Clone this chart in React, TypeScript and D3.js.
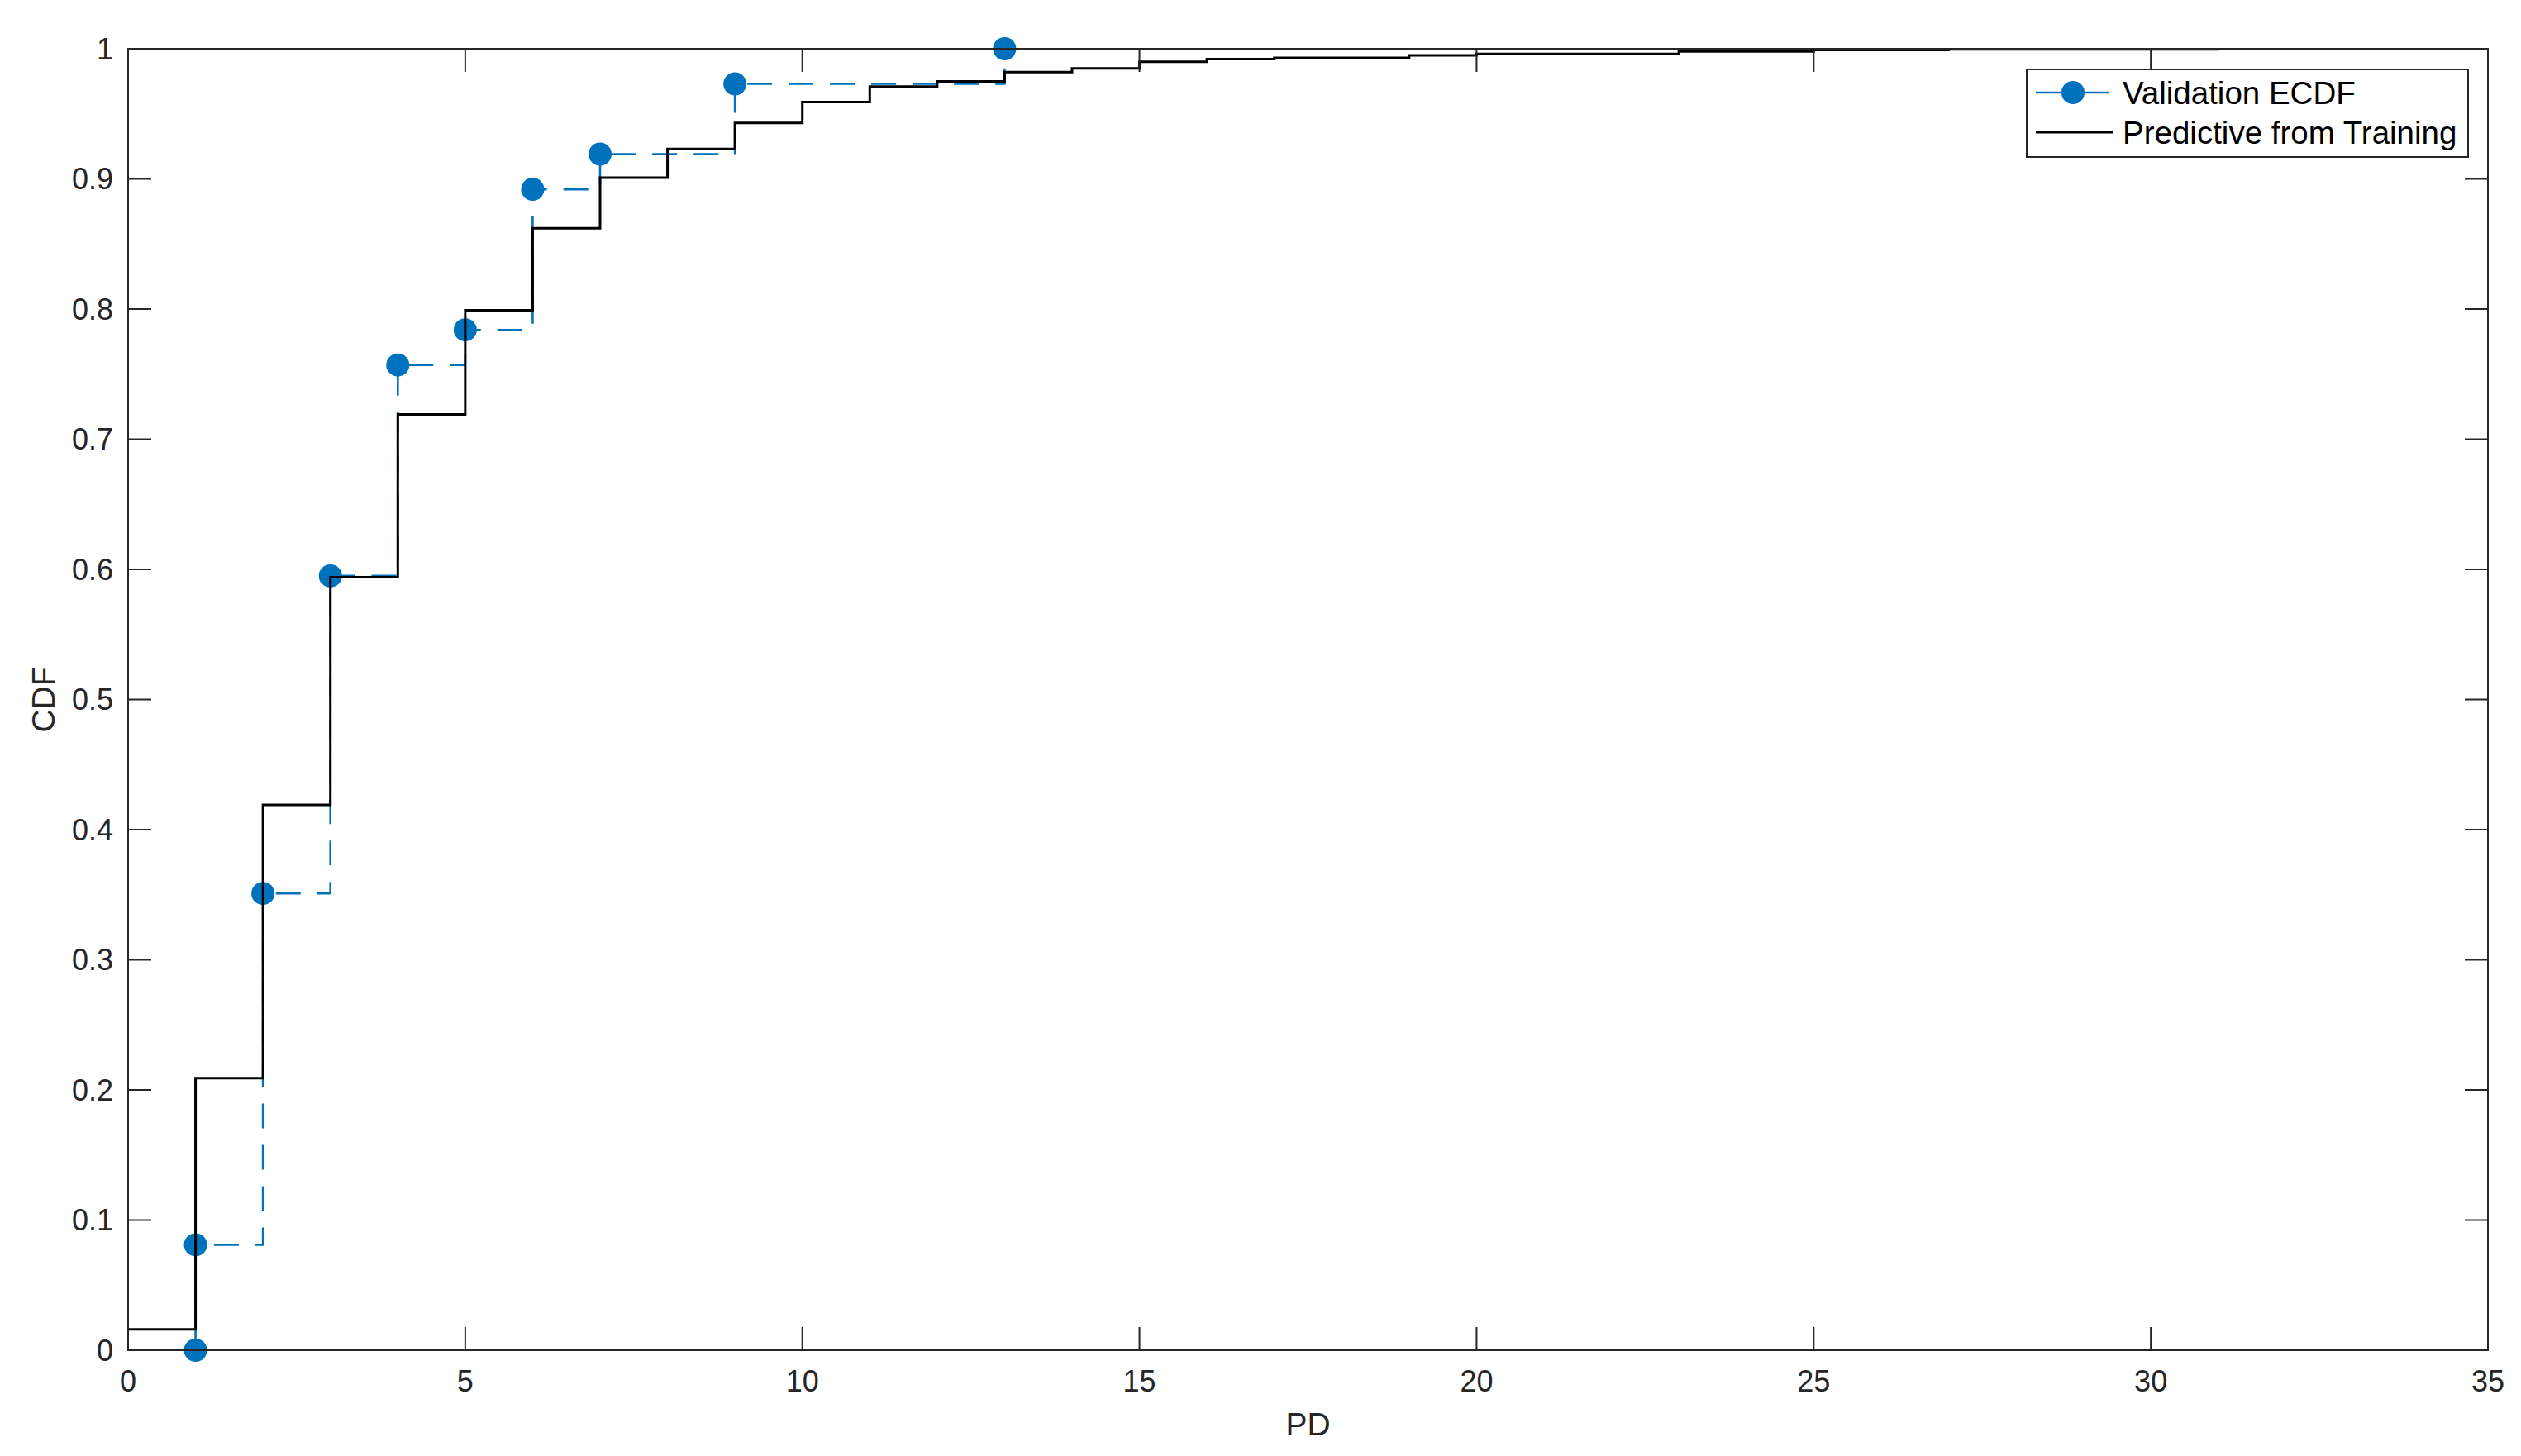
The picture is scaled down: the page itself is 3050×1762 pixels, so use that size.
import React from "react";
import * as d3 from "d3";

const W = 3050;
const H = 1762;

// Validation ECDF (stairs with markers)
const valX = [1, 1, 2, 3, 4, 5, 6, 7, 9, 13];
const valF = [0, 0.081, 0.351, 0.595, 0.757, 0.784, 0.892, 0.919, 0.973, 1.0];

// Predictive CDF from training (stairs)
const predX = [0, 1, 2, 3, 4, 5, 6, 7, 8, 9, 10, 11, 12, 13, 14, 15, 16, 17, 18, 19, 20, 21, 22, 23, 24, 25, 26, 27, 28, 29, 30, 31];
const predF = [0.016, 0.209, 0.419, 0.594, 0.719, 0.799, 0.862, 0.901, 0.923, 0.943, 0.959, 0.971, 0.975, 0.982, 0.985, 0.99, 0.992, 0.993, 0.993, 0.995, 0.996, 0.996, 0.996, 0.998, 0.998, 0.999, 0.999, 0.9995, 0.9995, 0.9995, 0.9995, 1.0];

const xTicks = [0, 5, 10, 15, 20, 25, 30, 35];
const yTicks = [0, 0.1, 0.2, 0.3, 0.4, 0.5, 0.6, 0.7, 0.8, 0.9, 1];

const legendLabels = ["Validation ECDF", "Predictive from Training"];

const BLUE = "#0072BD";
const AX = "#262626";
const FONT = "'Liberation Sans', Arial, Helvetica, sans-serif";

export default function App() {
  const left = 155, right = 3010, top = 59, bottom = 1634;
  const x = d3.scaleLinear().domain([0, 35]).range([left, right]);
  const y = d3.scaleLinear().domain([0, 1]).range([bottom, top]);
  const tickLen = 28;

  const line = d3
    .line<[number, number]>()
    .x((d) => x(d[0]))
    .y((d) => y(d[1]))
    .curve(d3.curveStepAfter);

  const valPts: [number, number][] = valX.map((v, i) => [v, valF[i]]);
  const predPts: [number, number][] = predX.map((v, i) => [v, predF[i]]);

  const fmt = (v: number) => (v === 0 || v === 1 ? String(v) : v.toFixed(1));

  // legend geometry
  const lg = { x0: 2452, y0: 84, x1: 2986, y1: 190 };
  const rows = [112, 160];

  return (
    <svg
      width={W}
      height={H}
      style={{ position: "absolute", left: 0, top: 0, background: "#fff" }}
      fontFamily={FONT}
    >
      <rect x={0} y={0} width={W} height={H} fill="#fff" />

      {/* Data */}
      <path d={line(valPts) || ""} fill="none" stroke={BLUE} strokeWidth={2.6} strokeDasharray="30 20" />
      {valPts.map((p, i) => (
        <circle key={i} cx={x(p[0])} cy={y(p[1])} r={14} fill={BLUE} />
      ))}
      <path d={line(predPts) || ""} fill="none" stroke="#000" strokeWidth={3} />

      {/* Box */}
      <rect x={left} y={top} width={right - left} height={bottom - top} fill="none" stroke={AX} strokeWidth={2} />

      {/* X ticks */}
      {xTicks.map((t) => (
        <g key={"x" + t}>
          <line x1={x(t)} x2={x(t)} y1={bottom} y2={bottom - tickLen} stroke={AX} strokeWidth={2} />
          <line x1={x(t)} x2={x(t)} y1={top} y2={top + tickLen} stroke={AX} strokeWidth={2} />
          <text x={x(t)} y={1684} textAnchor="middle" fontSize={36} fill={AX}>
            {t}
          </text>
        </g>
      ))}
      {/* Y ticks */}
      {yTicks.map((t) => (
        <g key={"y" + t}>
          <line x1={left} x2={left + tickLen} y1={y(t)} y2={y(t)} stroke={AX} strokeWidth={2} />
          <line x1={right} x2={right - tickLen} y1={y(t)} y2={y(t)} stroke={AX} strokeWidth={2} />
          <text x={left - 18} y={y(t)} dy="0.36em" textAnchor="end" fontSize={36} fill={AX}>
            {fmt(t)}
          </text>
        </g>
      ))}

      {/* Axis labels */}
      <text x={(left + right) / 2} y={1737} textAnchor="middle" fontSize={39} fill={AX}>
        PD
      </text>
      <text
        transform={`translate(66, ${(top + bottom) / 2}) rotate(-90)`}
        textAnchor="middle"
        fontSize={39}
        fill={AX}
      >
        CDF
      </text>

      {/* Legend */}
      <rect x={lg.x0} y={lg.y0} width={lg.x1 - lg.x0} height={lg.y1 - lg.y0} fill="#fff" stroke={AX} strokeWidth={2} />
      <line x1={2463} x2={2552} y1={rows[0]} y2={rows[0]} stroke={BLUE} strokeWidth={2.6} />
      <circle cx={2508} cy={rows[0]} r={14} fill={BLUE} />
      <line x1={2463} x2={2556} y1={rows[1]} y2={rows[1]} stroke="#000" strokeWidth={3} />
      {legendLabels.map((l, i) => (
        <text key={l} x={2568} y={rows[i]} dy="0.36em" fontSize={38.5} fill="#000">
          {l}
        </text>
      ))}
    </svg>
  );
}
